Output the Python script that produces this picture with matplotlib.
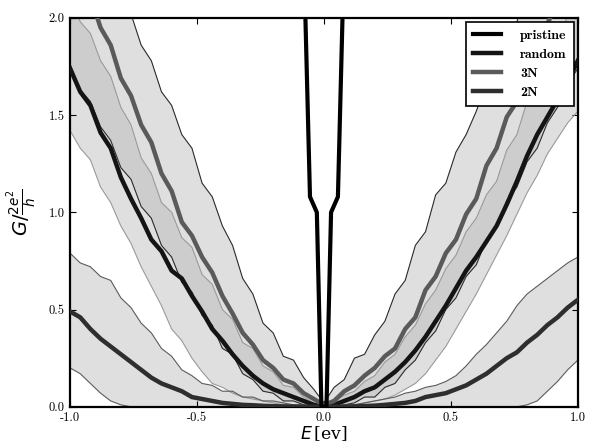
#!/usr/bin/env python3
"""Conductance of doped ribbons vs energy: mean +/- spread for each doping."""

import matplotlib

matplotlib.use("Agg")
import matplotlib.pyplot as plt

ENERGY = [
    -1.00, -0.96, -0.92, -0.88, -0.84, -0.80, -0.76, -0.72, -0.68, -0.64,
    -0.60, -0.56, -0.52, -0.48, -0.44, -0.40, -0.36, -0.32, -0.28, -0.24,
    -0.20, -0.16, -0.12, -0.08, -0.04, 0.00, 0.04, 0.08, 0.12, 0.16,
    0.20, 0.24, 0.28, 0.32, 0.36, 0.40, 0.44, 0.48, 0.52, 0.56,
    0.60, 0.64, 0.68, 0.72, 0.76, 0.80, 0.84, 0.88, 0.92, 0.96, 1.00,
]

# pristine ribbon: quantised step
PRISTINE_E = [-0.075, -0.055, -0.028, -0.010, 0.010, 0.028, 0.055, 0.075]
PRISTINE_G = [2.10, 1.08, 1.00, 0.00, 0.00, 1.00, 1.08, 2.10]

# random doping
RANDOM_MEAN = [
    1.74, 1.62, 1.55, 1.41, 1.33, 1.18, 1.07, 0.97, 0.86, 0.80,
    0.70, 0.66, 0.57, 0.49, 0.40, 0.34, 0.27, 0.21, 0.16, 0.12,
    0.09, 0.07, 0.05, 0.03, 0.01, 0.00, 0.01, 0.03, 0.05, 0.08,
    0.10, 0.14, 0.18, 0.23, 0.29, 0.36, 0.44, 0.52, 0.61, 0.70,
    0.77, 0.85, 0.93, 1.04, 1.16, 1.29, 1.40, 1.49, 1.58, 1.67, 1.78,
]
RANDOM_HIGH = [
    2.12, 1.98, 1.92, 1.78, 1.70, 1.54, 1.45, 1.28, 1.20, 1.05,
    1.00, 0.87, 0.82, 0.68, 0.63, 0.50, 0.45, 0.33, 0.30, 0.21,
    0.18, 0.11, 0.10, 0.05, 0.02, 0.00, 0.03, 0.06, 0.08, 0.13,
    0.16, 0.23, 0.27, 0.36, 0.42, 0.53, 0.60, 0.71, 0.78, 0.90,
    0.97, 1.09, 1.16, 1.32, 1.40, 1.57, 1.67, 1.81, 1.89, 2.01, 2.09,
]
RANDOM_LOW = [
    1.42, 1.33, 1.27, 1.13, 1.05, 0.93, 0.84, 0.72, 0.62, 0.52,
    0.40, 0.34, 0.25, 0.18, 0.12, 0.10, 0.07, 0.05, 0.04, 0.03,
    0.02, 0.01, 0.00, 0.00, 0.00, 0.00, 0.00, 0.00, 0.01, 0.02,
    0.03, 0.04, 0.06, 0.09, 0.12, 0.17, 0.24, 0.31, 0.40, 0.49,
    0.58, 0.68, 0.78, 0.88, 0.99, 1.10, 1.19, 1.30, 1.38, 1.46, 1.52,
]

# 3N doping
N3_MEAN = [
    2.36, 2.20, 2.11, 1.95, 1.86, 1.69, 1.60, 1.45, 1.36, 1.20,
    1.11, 0.95, 0.88, 0.77, 0.69, 0.57, 0.48, 0.38, 0.32, 0.24,
    0.20, 0.14, 0.12, 0.07, 0.04, 0.01, 0.03, 0.08, 0.11, 0.16,
    0.20, 0.26, 0.30, 0.40, 0.46, 0.60, 0.67, 0.79, 0.86, 0.99,
    1.07, 1.24, 1.33, 1.49, 1.57, 1.73, 1.83, 1.97, 2.08, 2.23, 2.34,
]
N3_HIGH = [
    2.50, 2.41, 2.36, 2.25, 2.21, 2.10, 2.02, 1.86, 1.78, 1.62,
    1.55, 1.40, 1.33, 1.15, 1.08, 0.93, 0.83, 0.66, 0.58, 0.43,
    0.38, 0.26, 0.24, 0.15, 0.09, 0.02, 0.10, 0.14, 0.25, 0.27,
    0.37, 0.44, 0.58, 0.65, 0.83, 0.90, 1.09, 1.15, 1.31, 1.40,
    1.52, 1.66, 1.75, 1.90, 1.98, 2.13, 2.19, 2.27, 2.34, 2.43, 2.49,
]
N3_LOW = [
    1.76, 1.63, 1.57, 1.44, 1.37, 1.23, 1.17, 1.03, 0.97, 0.83,
    0.77, 0.64, 0.59, 0.47, 0.42, 0.30, 0.27, 0.17, 0.14, 0.08,
    0.07, 0.03, 0.03, 0.01, 0.00, 0.00, 0.00, 0.01, 0.02, 0.05,
    0.05, 0.10, 0.12, 0.19, 0.24, 0.33, 0.39, 0.50, 0.56, 0.67,
    0.73, 0.86, 0.93, 1.06, 1.13, 1.26, 1.33, 1.46, 1.54, 1.66, 1.74,
]

# 2N doping
N2_MEAN = [
    0.49, 0.46, 0.40, 0.35, 0.31, 0.27, 0.23, 0.19, 0.15, 0.12,
    0.10, 0.08, 0.05, 0.04, 0.03, 0.02, 0.015, 0.01, 0.008, 0.005,
    0.003, 0.002, 0.001, 0.00, 0.00, 0.00, 0.00, 0.00, 0.002, 0.004,
    0.006, 0.01, 0.015, 0.02, 0.03, 0.05, 0.06, 0.07, 0.09, 0.11,
    0.14, 0.17, 0.21, 0.25, 0.28, 0.33, 0.37, 0.42, 0.46, 0.51, 0.55,
]
N2_HIGH = [
    0.79, 0.74, 0.72, 0.67, 0.65, 0.56, 0.51, 0.43, 0.38, 0.30,
    0.26, 0.19, 0.16, 0.12, 0.11, 0.08, 0.08, 0.05, 0.05, 0.03,
    0.03, 0.02, 0.01, 0.01, 0.00, 0.00, 0.00, 0.01, 0.01, 0.02,
    0.03, 0.04, 0.05, 0.07, 0.08, 0.10, 0.11, 0.13, 0.16, 0.21,
    0.27, 0.32, 0.38, 0.44, 0.52, 0.58, 0.62, 0.66, 0.70, 0.74, 0.77,
]
N2_LOW = [
    0.20, 0.17, 0.12, 0.07, 0.03, 0.01, 0.00, 0.00, 0.00, 0.00,
    0.00, 0.00, 0.00, 0.00, 0.00, 0.00, 0.00, 0.00, 0.00, 0.00,
    0.00, 0.00, 0.00, 0.00, 0.00, 0.00, 0.00, 0.00, 0.00, 0.00,
    0.00, 0.00, 0.00, 0.00, 0.00, 0.00, 0.00, 0.00, 0.00, 0.00,
    0.00, 0.00, 0.00, 0.00, 0.00, 0.01, 0.03, 0.08, 0.13, 0.19, 0.24,
]

X_TICKS = [-1.0, -0.5, 0.0, 0.5, 1.0]
X_TICK_LABELS = ["-1.0", "-0.5", "0.0", "0.5", "1.0"]
Y_TICKS = [0.0, 0.5, 1.0, 1.5, 2.0]
Y_TICK_LABELS = ["0.0", "0.5", "1.0", "1.5", "2.0"]


def _band(ax, low, high, mean, line_color, edge_color, label):
    ax.fill_between(ENERGY, low, high, facecolor="#b8b8b8", alpha=0.45, linewidth=0, zorder=1)
    ax.plot(ENERGY, low, color=edge_color, linewidth=0.8, zorder=2)
    ax.plot(ENERGY, high, color=edge_color, linewidth=0.8, zorder=2)
    ax.plot(ENERGY, mean, color=line_color, linewidth=3.2, zorder=3, label=label)


def main():
    plt.rcParams["axes.unicode_minus"] = False
    plt.rcParams["mathtext.fontset"] = "dejavusans"

    fig = plt.figure(figsize=(5.89, 4.48), dpi=100)
    ax = fig.add_axes([0.119, 0.092, 0.862, 0.868])

    ax.plot(PRISTINE_E, PRISTINE_G, color="black", linewidth=3.0, zorder=5, label="pristine")
    _band(ax, RANDOM_LOW, RANDOM_HIGH, RANDOM_MEAN, "#141414", "#9a9a9a", "random")
    _band(ax, N3_LOW, N3_HIGH, N3_MEAN, "#5a5a5a", "#2a2a2a", "3N")
    _band(ax, N2_LOW, N2_HIGH, N2_MEAN, "#2e2e2e", "#5c5c5c", "2N")

    ax.set_xlim(-1.0, 1.0)
    ax.set_ylim(0.0, 2.0)
    ax.set_xticks(X_TICKS)
    ax.set_xticklabels(X_TICK_LABELS, fontfamily="cmr10", fontsize=9)
    ax.set_yticks(Y_TICKS)
    ax.set_yticklabels(Y_TICK_LABELS, fontfamily="cmr10", fontsize=9)
    ax.tick_params(direction="in", top=True, right=True, length=4, width=0.8)
    ax.tick_params(axis="x", pad=4)
    ax.tick_params(axis="y", pad=4)
    for spine in ax.spines.values():
        spine.set_linewidth(1.6)

    ax.set_xlabel(r"$E\,$[ev]", fontsize=12.5, fontfamily="DejaVu Serif", labelpad=0)
    ax.set_ylabel(r"$G/\frac{2e^2}{h}$", fontsize=14, labelpad=6)

    leg = ax.legend(loc="upper right", prop={"family": "cmb10", "size": 10}, handlelength=2.0,
                    handletextpad=1.4, borderpad=0.5, labelspacing=0.45, fancybox=False,
                    framealpha=1.0, edgecolor="black", borderaxespad=0.3)
    leg.get_frame().set_linewidth(1.2)
    leg.set_zorder(10)

    fig.savefig("out.png", dpi=100)
    plt.close(fig)


if __name__ == "__main__":
    main()
